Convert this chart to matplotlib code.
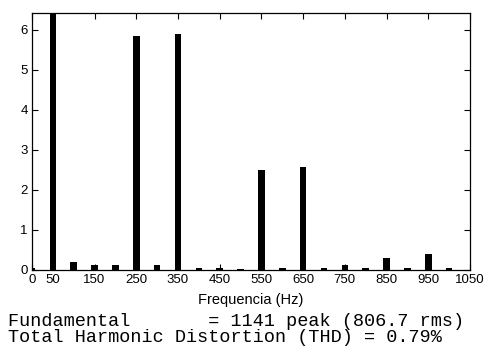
import matplotlib
matplotlib.use("Agg")
import matplotlib.pyplot as plt

plt.rcParams["font.family"] = ["Liberation Sans", "DejaVu Sans"]

freqs = [0, 50, 100, 150, 200, 250, 300, 350, 400, 450, 500,
         550, 600, 650, 700, 750, 800, 850, 900, 950, 1000]
mags = [0.05, 100, 0.21, 0.12, 0.12, 5.85, 0.12, 5.89, 0.06, 0.06, 0.02,
        2.50, 0.06, 2.57, 0.06, 0.12, 0.06, 0.31, 0.06, 0.40, 0.06]
xticks = [0, 50, 150, 250, 350, 450, 550, 650, 750, 850, 950, 1050]
yticks = [0, 1, 2, 3, 4, 5, 6]
xlabel = "Frequencia (Hz)"
line1 = "Fundamental       = 1141 peak (806.7 rms)"
line2 = "Total Harmonic Distortion (THD) = 0.79%"

fig = plt.figure(figsize=(4.85, 3.51), dpi=100)
ax = fig.add_axes([32/485, 81/351, 438/485, 257/351])
ax.bar(freqs, mags, width=16, color="black", edgecolor="black", linewidth=0)
ax.set_xlim(0, 1050)
ax.set_ylim(0, 6.42)
ax.set_xticks(xticks)
ax.set_yticks(yticks)
ax.tick_params(direction="in", length=4, width=0.8, top=True, right=True,
               labelsize=9.5, pad=3)
for s in ax.spines.values():
    s.set_linewidth(0.9)
ax.set_xlabel(xlabel, fontsize=10.5, labelpad=5)

fig.text(8/485, 1 - 321/351, line1, family="Liberation Mono", fontsize=13.3,
         va="center", ha="left")
fig.text(8/485, 1 - 338/351, line2, family="Liberation Mono", fontsize=13.3,
         va="center", ha="left")

fig.savefig("out.png", dpi=100, facecolor="white")
